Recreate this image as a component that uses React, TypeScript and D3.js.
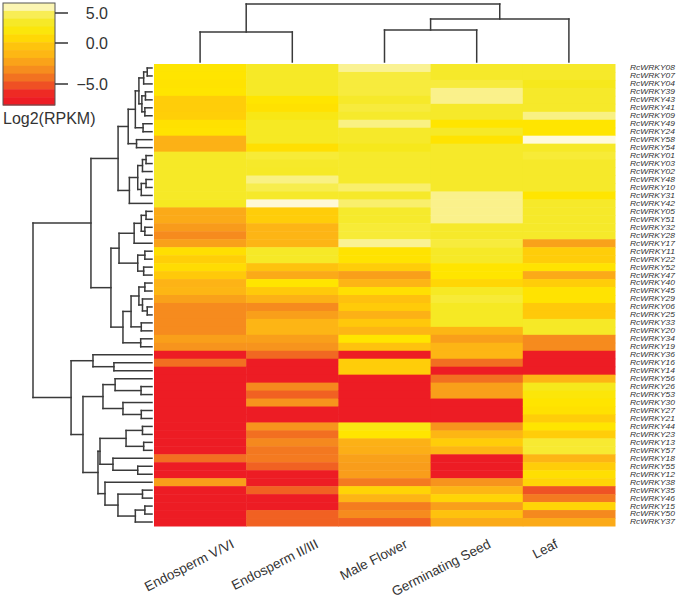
import React from "react";
import * as d3 from "d3";

const columns = ["Endosperm V/VI", "Endosperm II/III", "Male Flower", "Germinating Seed", "Leaf"];
const genes = [
  "RcWRKY08","RcWRKY07","RcWRKY04","RcWRKY39","RcWRKY43","RcWRKY41","RcWRKY09","RcWRKY49","RcWRKY24","RcWRKY58",
  "RcWRKY54","RcWRKY01","RcWRKY03","RcWRKY02","RcWRKY48","RcWRKY10","RcWRKY31","RcWRKY42","RcWRKY05","RcWRKY51",
  "RcWRKY32","RcWRKY28","RcWRKY17","RcWRKY11","RcWRKY22","RcWRKY52","RcWRKY47","RcWRKY40","RcWRKY45","RcWRKY29",
  "RcWRKY06","RcWRKY25","RcWRKY33","RcWRKY20","RcWRKY34","RcWRKY19","RcWRKY36","RcWRKY16","RcWRKY14","RcWRKY56",
  "RcWRKY26","RcWRKY53","RcWRKY30","RcWRKY27","RcWRKY21","RcWRKY44","RcWRKY23","RcWRKY13","RcWRKY57","RcWRKY18",
  "RcWRKY55","RcWRKY12","RcWRKY38","RcWRKY35","RcWRKY46","RcWRKY15","RcWRKY50","RcWRKY37",
];

const endospermVVI = [
  1.6, 1.5, 1.4, 1.5, 0.2, 0.2, 0.3, 1.3, 1.4, -1.7,
  -1.7, 3.4, 3.4, 3.4, 3.4, 3.4, 3.4, 3.2, -2.0, -2.0,
  -2.7, -3.3, -2.4, 1.2, 0.3, 1.0, 0.0, -1.6, -1.4, -2.4,
  -3.3, -3.3, -3.3, -3.3, -2.5, -3.0, -7, -4.3, -7, -7,
  -7, -7, -7, -7, -7, -7, -7, -7, -7, -4.3,
  -7, -7, -2.5, -7, -7, -7, -7, -7,
];
const endospermIIIII = [
  3.4, 3.4, 3.4, 3.4, 1.5, 1.3, 2.6, 3.3, 3.3, 3.3,
  1.2, 4.0, 3.5, 3.4, 5.3, 4.6, 3.5, 6.6, 0.2, 0.2,
  -1.5, -1.5, -1.5, 3.4, 3.4, -0.5, -2.0, 1.5, 0.0, -1.7,
  -3.3, -2.5, -1.5, -1.5, -2.5, -3.0, -4.5, -7, -7, -7,
  -3.4, -4.7, -3.0, -7, -7, -3.0, -4.3, -3.4, -4.0, -3.9,
  -4.7, -7, -7, -4.7, -7, -7, -4.7, -4.7,
];
const maleFlower = [
  5.5, 4.2, 4.2, 4.2, 3.5, 4.2, 3.6, 5.3, 3.5, 3.5,
  3.0, 3.6, 3.6, 3.6, 3.6, 5.0, 3.5, 5.0, 3.6, 3.6,
  4.0, 4.0, 5.5, 1.4, 1.4, 0.2, -2.5, -1.5, 1.2, -0.6,
  0.1, -1.7, -0.1, -1.4, 1.5, -0.5, -7, 0.2, 0.2, -7,
  -7, -7, -7, -7, -7, 2.5, 1.5, -1.7, -1.8, -2.4,
  -2.6, -2.6, -3.9, 0.6, -1.5, -3.8, -3.3, -4.7,
];
const germinatingSeed = [
  3.5, 3.5, 4.2, 5.4, 5.4, 3.5, 3.5, 1.5, 3.4, 1.4,
  3.5, 3.5, 3.5, 3.5, 3.5, 3.5, 5.4, 5.4, 5.4, 5.4,
  3.5, 3.5, 4.2, 3.4, 3.4, 1.5, 1.5, 0.7, 3.3, 4.0,
  3.3, 3.3, 3.3, -1.4, -2.5, -1.5, -1.4, -4.3, -7, -4.3,
  -2.5, -2.5, -7, -7, -7, -3.0, -1.4, 0.2, -1.4, -7,
  -7, -7, -3.0, -1.4, 0.6, -2.5, -0.5, -2.0,
];
const leaf = [
  3.5, 3.5, 3.0, 3.5, 3.5, 3.5, 5.3, 1.5, 1.5, 6.7,
  3.4, 4.0, 3.5, 3.5, 3.5, 3.5, 1.5, 3.5, 3.5, 3.5,
  3.5, 3.5, -2.4, 0.2, 0.2, 1.4, -2.0, 0.2, 1.4, 1.4,
  0.0, 0.0, 3.4, 3.4, -3.3, -3.3, -7, -7, -7, -1.5,
  3.0, 2.0, 1.5, 1.3, 0.2, 1.5, 0.2, 3.8, 3.8, -1.5,
  0.2, 1.2, 0.6, -5.1, -3.9, 0.6, -3.4, -2.0,
];

// Row dendrogram (leaf = row index, ":h" = merge height)
const rowClusterB =
  "((((((0,1):0.4,2):0.7,((3,4):0.55,(5,6):0.6):0.85):1.1,(7,8):0.75):1.4,(9,10):1.3):2.0," +
  "((((11,12):0.5,13):0.8,((14,15):0.5,16):0.9):1.2,17):1.9):2.85";
const rowClusterC =
  "(((((18,19):0.5,(20,21):0.6):0.9,22):1.5,((23,24):0.6,(25,26):0.7):1.2):2.77," +
  "((((27,28):0.6,(29,(30,31):0.4):0.8):1.1,(32,33):0.9):1.76,(34,35):0.95):2.44):3.45";
const rowClusterL =
  "((36,(37,38):3.2):4.96,(((39,(40,41):0.92):3.1,(42,(43,44):0.9):2.44):4.12," +
  "((((45,46):0.8,(47,48):0.7):2.18,(49,(50,51):1.2):3.28):4.37," +
  "(52,((53,54):0.8,((55,56):0.6,57):1.4):2.86):3.95):4.54):5.8):6.8";
const rowTree = "((" + rowClusterB + "," + rowClusterC + "):5.13," + rowClusterL + "):10";
const colTree = "((0,1):5.17,((2,3):5.52,4):7.41):10";

const legendTicks = [5, 0, -5];
const legendDomain = [6.7, 5, 0, -5, -7.6];
const colorDomain = [6.7, 5.5, 4.5, 3.0, 1.5, 0, -1.5, -3, -4.3, -5.2, -6.5];
const colorRange = ["#FFFADB", "#FAF293", "#F7EC45", "#F6E81C", "#FFE500", "#FFC90A", "#FDB515", "#F7941D", "#F26F21", "#EF4F24", "#ED1C24"];
const labelShift = [35, 27, 24, 15, -10];

type TNode = { leaf?: number; h: number; children?: TNode[] };

function parseTree(src: string): TNode {
  const s = src.replace(/\s+/g, "");
  let i = 0;
  const num = () => {
    const m = /^[0-9.]+/.exec(s.slice(i))!;
    i += m[0].length;
    return parseFloat(m[0]);
  };
  const node = (): TNode => {
    if (s[i] === "(") {
      i++;
      const kids = [node()];
      while (s[i] === ",") { i++; kids.push(node()); }
      i++;
      let h = 0;
      if (s[i] === ":") { i++; h = num(); }
      return { h, children: kids };
    }
    return { leaf: num(), h: 0 };
  };
  return node();
}

type Seg = { x1: number; y1: number; x2: number; y2: number };

// horizontal=true: leaves along y, heights along x (row dendrogram)
function treeSegments(root: TNode, leafPos: (i: number) => number, hPos: (h: number) => number, horizontal: boolean): Seg[] {
  const segs: Seg[] = [];
  const walk = (n: TNode): number => {
    if (n.children === undefined) return leafPos(n.leaf!);
    const ps = n.children.map(walk);
    const p = (ps[0] + ps[ps.length - 1]) / 2;
    const hp = hPos(n.h);
    if (horizontal) {
      segs.push({ x1: hp, y1: ps[0], x2: hp, y2: ps[ps.length - 1] });
      n.children.forEach((c, k) => segs.push({ x1: hp, y1: ps[k], x2: hPos(c.h), y2: ps[k] }));
    } else {
      segs.push({ x1: ps[0], y1: hp, x2: ps[ps.length - 1], y2: hp });
      n.children.forEach((c, k) => segs.push({ x1: ps[k], y1: hp, x2: ps[k], y2: hPos(c.h) }));
    }
    return p;
  };
  walk(root);
  return segs;
}

export default function App() {
  const W = 681, H = 598;
  const series = [endospermVVI, endospermIIIII, maleFlower, germinatingSeed, leaf];
  const x = d3.scaleBand<string>().domain(columns).range([154, 615]);
  const y = d3.scaleBand<number>().domain(d3.range(genes.length)).range([64, 526]);
  const color = d3.scaleLinear<string>().domain(colorDomain).range(colorRange).interpolate(d3.interpolateRgb).clamp(true);

  const rowH = d3.scaleLinear().domain([0, 10]).range([152, 33]);
  const colH = d3.scaleLinear().domain([0, 10]).range([62, 4]);
  const rowSegs = treeSegments(parseTree(rowTree), (i) => y(i)! + y.bandwidth() / 2, rowH, true);
  const colSegs = treeSegments(parseTree(colTree), (i) => x(columns[i])! + x.bandwidth() / 2, colH, false);

  const ly = d3.scaleLinear().domain(legendDomain).range([3, 13, 43, 84, 105]);
  const nBands = 13;
  const bandEdges = d3.range(nBands + 1).map((k) => 3 + (102 * k) / nBands);

  const font = "'Liberation Sans', Arial, Helvetica, sans-serif";
  const ink = "#333";

  return (
    <svg width={W} height={H} style={{ position: "absolute", left: 0, top: 0, background: "#fff" }} fontFamily={font}>
      <rect x={0} y={0} width={W} height={H} fill="#fff" />
      {/* heatmap cells */}
      {series.map((vals, c) =>
        vals.map((v, r) => (
          <rect key={`c${c}-${r}`} x={x(columns[c])!} y={y(r)!} width={x.bandwidth() + 0.5} height={y.bandwidth() + 0.5} fill={color(v)} />
        ))
      )}
      {/* dendrograms */}
      <g stroke="#3a3a3a" strokeWidth={1.5} strokeLinecap="square" fill="none">
        {rowSegs.map((s, k) => <line key={`r${k}`} x1={s.x1} y1={s.y1} x2={s.x2} y2={s.y2} />)}
        {colSegs.map((s, k) => <line key={`t${k}`} x1={s.x1} y1={s.y1} x2={s.x2} y2={s.y2} />)}
      </g>
      {/* row labels */}
      <g fontSize={6.9} fontStyle="italic" fill={ink}>
        {genes.map((g, r) => (
          <text key={g} x={630} y={y(r)! + y.bandwidth() / 2} dy="0.35em" textLength={45} lengthAdjust="spacingAndGlyphs">{g}</text>
        ))}
      </g>
      {/* column labels */}
      <g fontSize={13.5} fill={ink}>
        {columns.map((c, i) => (
          <text key={c} textAnchor="end" transform={`translate(${x(c)! + x.bandwidth() / 2 + labelShift[i]},547) rotate(-27)`}>{c}</text>
        ))}
      </g>
      {/* legend */}
      <g>
        {d3.range(nBands).map((k) => {
          const mid = (bandEdges[k] + bandEdges[k + 1]) / 2;
          return <rect key={`lb${k}`} x={3} y={bandEdges[k]} width={52} height={bandEdges[k + 1] - bandEdges[k] + 0.5} fill={color(ly.invert(mid))} />;
        })}
        <rect x={3} y={3} width={52} height={102} fill="none" stroke="#555" strokeWidth={1} />
        {legendTicks.map((t) => (
          <g key={`lt${t}`}>
            <line x1={55} x2={68} y1={ly(t)} y2={ly(t)} stroke={ink} strokeWidth={1.5} />
            <text x={108} y={ly(t)} dy="0.35em" textAnchor="end" fontSize={16} fill={ink}>
              {d3.format(".1f")(t).replace("-", "\u2212")}
            </text>
          </g>
        ))}
        <text x={3} y={124} fontSize={16} fill={ink}>Log2(RPKM)</text>
      </g>
    </svg>
  );
}
